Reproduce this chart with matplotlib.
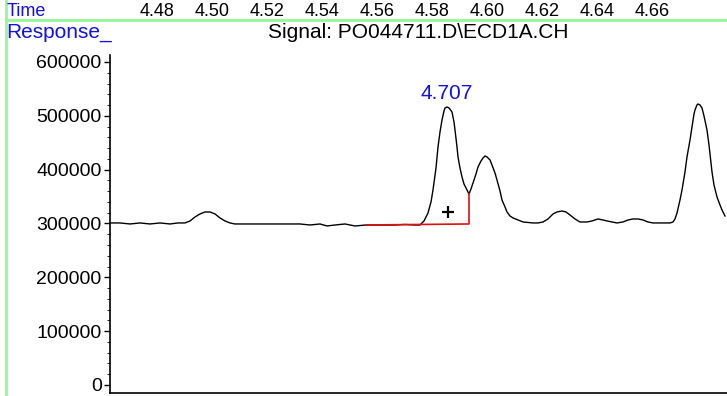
import matplotlib
matplotlib.use("Agg")
import matplotlib.pyplot as plt
from matplotlib.lines import Line2D
from matplotlib.ticker import MultipleLocator
import matplotlib.transforms as mtransforms

plt.rcParams["font.family"] = ["Liberation Sans", "DejaVu Sans"]

# ---- data ----
HEADER_TICKS = [4.48, 4.50, 4.52, 4.54, 4.56, 4.58, 4.60, 4.62, 4.64, 4.66]

tempo = [4.5722, 4.5762, 4.5802, 4.5842, 4.5882, 4.5922, 4.5962, 4.5994, 4.6022, 4.6042,
         4.6062, 4.6082, 4.6102, 4.6122, 4.6142, 4.6162, 4.6182, 4.6202, 4.6222, 4.6242,
         4.6322, 4.6402, 4.6482, 4.6522, 4.6562, 4.6590, 4.6622, 4.6662, 4.6702, 4.6746,
         4.6802, 4.6862, 4.6902, 4.6942, 4.6962, 4.6978, 4.6994, 4.7006, 4.7014, 4.7026,
         4.7034, 4.7042, 4.7050, 4.7058, 4.7062, 4.7070, 4.7078, 4.7090, 4.7098, 4.7102,
         4.7110, 4.7114, 4.7122, 4.7130, 4.7138, 4.7146, 4.7154, 4.7158, 4.7166, 4.7174,
         4.7186, 4.7194, 4.7206, 4.7214, 4.7222, 4.7230, 4.7242, 4.7250, 4.7262, 4.7270,
         4.7282, 4.7290, 4.7302, 4.7310, 4.7322, 4.7334, 4.7354, 4.7374, 4.7414, 4.7434,
         4.7454, 4.7474, 4.7494, 4.7510, 4.7530, 4.7546, 4.7562, 4.7582, 4.7602, 4.7630,
         4.7650, 4.7674, 4.7694, 4.7710, 4.7730, 4.7750, 4.7774, 4.7794, 4.7814, 4.7834,
         4.7854, 4.7874, 4.7894, 4.7922, 4.7942, 4.7962, 4.7974, 4.7982, 4.7990, 4.8002,
         4.8010, 4.8022, 4.8030, 4.8042, 4.8050, 4.8058, 4.8062, 4.8070, 4.8074, 4.8082,
         4.8090, 4.8098, 4.8106, 4.8110, 4.8118, 4.8130, 4.8138, 4.8150, 4.8162, 4.8170,
         4.8182]
risposta = [301000, 301000, 299100, 301000, 299100, 301000, 299100, 301000, 301000, 304700,
            312100, 317700, 321400, 321400, 317700, 310300, 304700, 301000, 299100, 299100,
            299100, 299100, 299100, 297200, 299100, 295400, 297200, 299100, 295400, 297200,
            297200, 297200, 298200, 297200, 297200, 304700, 319500, 340000, 362300, 403100,
            442100, 470000, 492300, 509000, 514600, 516400, 514600, 507200, 488600, 473700,
            442100, 423600, 403100, 386400, 373400, 366000, 358500, 354800, 364100, 375300,
            392000, 405000, 416100, 421700, 425400, 423600, 418000, 408700, 393800, 380800,
            360400, 343700, 330700, 321400, 313900, 310300, 306500, 302800, 301000, 301000,
            302800, 308400, 317700, 321400, 323200, 321400, 315800, 308400, 302800, 302800,
            304700, 308400, 306500, 304700, 302800, 301000, 302800, 306500, 308400, 308400,
            306500, 302800, 301000, 301000, 301000, 301000, 302800, 308400, 319500, 343700,
            362300, 395700, 423600, 455100, 479300, 503400, 510900, 520200, 522000, 520200,
            514600, 499700, 483000, 473700, 445800, 395700, 371500, 349300, 334400, 325100,
            313900]

# integration baseline (red), integration marker and peak label
base_t = [4.6746, 4.7158, 4.7158]
base_v = [297200, 299100, 354800]
plus_t = [4.7074]
plus_v = [321400]
picco_t = 4.707
picco_v = 516400

fig = plt.figure(figsize=(7.27, 3.96), dpi=100)
W, H = 727, 396

ax = fig.add_axes([110 / W, 3 / H, 1 - 110 / W, 338 / H])
ax.plot(tempo, risposta, color="black", lw=1.0)
ax.plot(base_t, base_v, color="#e01010", lw=1.2)
ax.plot(plus_t, plus_v, marker="+", ms=9, mew=1.6, color="black", ls="none")
ax.annotate(f"{picco_t:.3f}", (picco_t, picco_v), xytext=(0, 6), textcoords="offset points",
            ha="center", va="baseline", color="#1010ee", fontsize=15)

ax.set_xlim(4.5722, 4.8190)
ax.set_ylim(-14900, 613000)
ax.set_yticks(range(0, 600001, 100000))
ax.yaxis.set_minor_locator(MultipleLocator(20000))
ax.tick_params(axis="y", which="major", length=4, width=1, labelsize=14, pad=2)
ax.tick_params(axis="y", which="minor", length=2, width=0.6)
ax.set_xticks([])
for s in ["top", "right"]:
    ax.spines[s].set_visible(False)
ax.spines["left"].set_linewidth(1.2)
ax.spines["bottom"].set_linewidth(1.2)

# header row with the time labels
hdr = fig.add_axes([0, 1 - 19 / H, 1, 19 / H])
hdr.set_xlim(4.4229, 4.6873)
hdr.set_ylim(0, 1)
hdr.axis("off")
trans = mtransforms.blended_transform_factory(hdr.transData, hdr.transAxes)
for t in HEADER_TICKS:
    hdr.text(t, 2.5 / 19, f"{t:.2f}", transform=trans, ha="center", va="baseline", fontsize=13)

fig.text(6.5 / W, 1 - 16.5 / H, "Time", color="#1010ee", fontsize=13, ha="left", va="baseline")
fig.text(6.5 / W, 1 - 33 / H, "Response_", color="#1010ee", fontsize=15, ha="left", va="center")
fig.text(418 / W, 1 - 33 / H, "Signal: PO044711.D\\ECD1A.CH", fontsize=15, ha="center", va="center")

verde = "#98f598"
fig.add_artist(Line2D([6 / W, 1], [1 - 19.5 / H, 1 - 19.5 / H], color=verde, lw=2))
fig.add_artist(Line2D([6 / W, 6 / W], [0, 1], color=verde, lw=2))

fig.savefig("out.png", dpi=100)
